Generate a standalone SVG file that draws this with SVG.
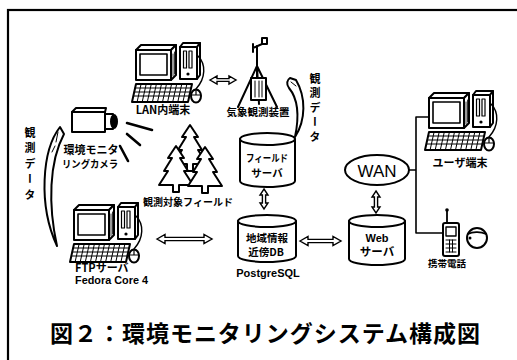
<svg xmlns="http://www.w3.org/2000/svg" xmlns:xlink="http://www.w3.org/1999/xlink" width="517" height="360" viewBox="0 0 517 360">
  <style>
    .ln { fill: none; stroke: #000; stroke-linejoin: round; stroke-linecap: round; }
    .sh { fill: #fff; stroke: #000; stroke-width: 2; stroke-linejoin: round; }
    .dbl { fill: #fff; stroke: #000; stroke-width: 1.4; stroke-linejoin: miter; }
    .lbl { font-family: "Noto Sans CJK JP", "Noto Sans", sans-serif; font-weight: bold; fill: #000; text-anchor: middle; }
    .lat { font-family: "Liberation Sans", Arial, sans-serif; font-weight: bold; fill: #000; text-anchor: middle; }
    .vert { writing-mode: vertical-rl; text-anchor: start; }
  </style>
  <defs>
    <!-- desktop computer: monitor, tower, keyboard, mouse -->
    <g id="pc">
      <path class="sh" d="M4,8 L9,3 L44,3 L39,8 Z"/>
      <path class="sh" d="M39,8 L44,3 L44,33 L39,38 Z"/>
      <path class="ln" stroke-width="0.8" d="M41,12 L41,34 M42.5,10 L42.5,32"/>
      <rect class="sh" x="4" y="8" width="35" height="30" stroke-width="2.6"/>
      <rect class="ln" x="8" y="12" width="27" height="21" stroke-width="1.6"/>
      <path class="sh" d="M48,5 L51,1 L68,1 L65,5 Z"/>
      <path class="sh" d="M65,5 L68,1 L68,33 L65,37 Z"/>
      <rect class="sh" x="48" y="5" width="17" height="32"/>
      <rect class="ln" x="51.5" y="9" width="3" height="17" stroke-width="1.2"/>
      <rect class="ln" x="57" y="9" width="3" height="17" stroke-width="1.2"/>
      <circle cx="56" cy="32" r="1.6" fill="#000"/>
      <path class="ln" stroke-width="1.4" d="M66,14 C74,22 74,36 64,47"/>
      <path class="sh" d="M0,60 L4,42 L60,42 L56,60 Z"/>
      <path class="ln" stroke-width="1" d="M3.1,46 L59.1,46 M2.2,50 L58.2,50 M1.3,54 L57.3,54 M9.1,42 L5.1,60 M14.2,42 L10.2,60 M19.3,42 L15.3,60 M24.4,42 L20.4,60 M29.5,42 L25.5,60 M34.5,42 L30.5,60 M39.6,42 L35.6,60 M44.7,42 L40.7,60 M49.8,42 L45.8,60 M54.9,42 L50.9,60"/>
      <ellipse class="sh" cx="64" cy="54" rx="5" ry="6.5" stroke-width="1.6"/>
      <path class="ln" stroke-width="1.2" d="M59,53 L69,53 M64,47.5 L64,53"/>
    </g>
    <!-- pine tree outline, tip at origin -->
    <path id="tree" class="sh" d="M0,0 L-8,12 L-4,12 L-12,25 L-8,25 L-17,39 L-3,39 L-3,46 L3,46 L3,39 L17,39 L8,25 L12,25 L4,12 L8,12 Z"/>
  </defs>

  <rect width="517" height="360" fill="#fff"/>
  <!-- outer frame -->
  <rect x="8" y="10" width="530" height="370" fill="none" stroke="#000" stroke-width="2.2"/>

  <g id="lan-terminal">
    <use xlink:href="#pc" transform="translate(132,42)"/>
    <text class="lbl" x="163" y="114" font-size="11">LAN内端末</text>
  </g>

  <g id="weather-station">
    <path class="ln" stroke-width="2" d="M257,46 L257,78 M257,66 L238,107 M257,66 L277,107 M257,66 L259,104"/>
    <path class="ln" stroke-width="2" d="M253,48 L262,44 M262,44 L262,38 L267,38 L267,44 Z M253,44 L253,52"/>
    <rect class="sh" x="251" y="78" width="15" height="22" stroke-width="1.8"/>
    <path class="ln" stroke-width="1" d="M255,81 L255,97 M259,81 L259,97 M262,81 L262,97"/>
    <text class="lbl" x="258" y="116" font-size="10.5">気象観測装置</text>
  </g>

  <g id="camera">
    <path class="sh" d="M72,112 L76,108 L106,108 L105,112 Z"/>
    <rect class="sh" x="72" y="112" width="33" height="20" stroke-width="2.4"/>
    <rect class="sh" x="105" y="114" width="8" height="15"/>
    <ellipse cx="114" cy="121.5" rx="4" ry="7.5" fill="#000"/>
    <path class="ln" stroke-width="2.6" d="M127,123 L152,130 M127,134 L140,145 M120,146 L128,161"/>
    <text class="lbl" x="91" y="154" font-size="11">環境モニタ</text>
    <text class="lbl" x="90" y="168" font-size="10" textLength="56" lengthAdjust="spacingAndGlyphs">リングカメラ</text>
  </g>

  <g id="field">
    <use xlink:href="#tree" transform="translate(190,125)"/>
    <use xlink:href="#tree" transform="translate(176,146)"/>
    <use xlink:href="#tree" transform="translate(205,147)"/>
    <text class="lbl" x="188" y="206" font-size="10" textLength="90" lengthAdjust="spacingAndGlyphs">観測対象フィールド</text>
  </g>

  <g id="field-server">
    <path class="sh" d="M240,139 A27.5,6 0 0 1 295,139 L295,181 A27.5,6 0 0 1 240,181 Z"/>
    <path class="ln" stroke-width="2" d="M240,139 A27.5,6 0 0 0 295,139"/>
    <text class="lbl" x="267" y="162" font-size="10" textLength="42" lengthAdjust="spacingAndGlyphs">フィールド</text>
    <text class="lbl" x="267" y="176.5" font-size="10.5">サーバ</text>
  </g>

  <g id="db-server">
    <path class="sh" d="M238,221 A29,6 0 0 1 296,221 L296,256 A29,6 0 0 1 238,256 Z"/>
    <path class="ln" stroke-width="2" d="M238,221 A29,6 0 0 0 296,221"/>
    <text class="lbl" x="267" y="242" font-size="10.5">地域情報</text>
    <text class="lbl" x="266" y="256" font-size="10.5">近傍DB</text>
    <text class="lat" x="268" y="277" font-size="11">PostgreSQL</text>
  </g>

  <g id="ftp-server">
    <use xlink:href="#pc" transform="translate(70,202)"/>
    <text class="lbl" x="75" y="272" font-size="11" style="text-anchor:start">FTPサーバ</text>
    <text class="lat" x="75" y="284" font-size="10" style="text-anchor:start" textLength="73" lengthAdjust="spacingAndGlyphs">Fedora Core 4</text>
  </g>

  <g id="wan">
    <ellipse class="sh" cx="377" cy="170" rx="32" ry="15"/>
    <text x="377" y="176.5" font-family="Liberation Sans, Arial, sans-serif" font-size="17" text-anchor="middle">WAN</text>
  </g>

  <g id="web-server">
    <path class="sh" d="M349,221 A28,6 0 0 1 405,221 L405,259 A28,6 0 0 1 349,259 Z"/>
    <path class="ln" stroke-width="2" d="M349,221 A28,6 0 0 0 405,221"/>
    <text class="lat" x="377" y="242" font-size="11">Web</text>
    <text class="lbl" x="377" y="256" font-size="11.5">サーバ</text>
  </g>

  <g id="user-terminal">
    <use xlink:href="#pc" transform="translate(425,90)"/>
    <text class="lbl" x="460" y="167" font-size="11">ユーザ端末</text>
  </g>

  <g id="mobile-phone">
    <path class="ln" stroke-width="1.8" d="M447,211 L447,224"/>
    <circle cx="447" cy="210" r="1.8" fill="#000"/>
    <rect class="sh" x="443" y="223" width="16" height="33" rx="2"/>
    <rect class="ln" x="446" y="227" width="10" height="9" stroke-width="1.4"/>
    <path class="ln" stroke-width="1" d="M446,240 L456,240 M446,244 L456,244 M446,248 L456,248 M446,252 L456,252 M449.5,240 L449.5,252 M452.5,240 L452.5,252"/>
    <circle class="sh" cx="477" cy="238" r="10"/>
    <path class="ln" stroke-width="1.6" d="M468,234 C472,232 480,231 486,234"/>
    <circle cx="470" cy="238" r="1.5" fill="#000"/>
    <text class="lbl" x="447" y="267" font-size="9.5">携帯電話</text>
  </g>

  <g id="data-labels">
    <text class="lbl vert" x="315" y="73" font-size="11" letter-spacing="3.5">観測データ</text>
    <text class="lbl vert" x="30" y="127" font-size="11" letter-spacing="4.5">観測データ</text>
  </g>

  <g id="connectors">
    <!-- hollow double-headed arrows -->
    <path class="dbl" d="M210,80 L217,76 L217,78.6 L229,78.6 L229,76 L236,80 L229,84 L229,81.4 L217,81.4 L217,84 Z"/>
    <path class="dbl" d="M157,239 L165,234.5 L165,237.4 L204,237.4 L204,234.5 L212,239 L204,243.5 L204,240.6 L165,240.6 L165,243.5 Z"/>
    <path class="dbl" d="M300,241 L308,236.5 L308,239.4 L333,239.4 L333,236.5 L341,241 L333,245.5 L333,242.6 L308,242.6 L308,245.5 Z"/>
    <path class="dbl" d="M264,189 L268,195 L265.6,195 L265.6,203 L268,203 L264,209 L260,203 L262.4,203 L262.4,195 L260,195 Z"/>
    <path class="dbl" d="M376,191 L380,197 L377.6,197 L377.6,207 L380,207 L376,213 L372,207 L374.4,207 L374.4,197 L372,197 Z"/>
    <!-- WAN links to user terminal and phone -->
    <path class="ln" stroke-width="1.6" stroke-linejoin="miter" stroke-linecap="butt" d="M428,117 L416,117 L416,233 L443,233 M409,170 L416,170"/>
    <!-- curved data-flow arrows -->
    <path class="sh" stroke-width="1.6" d="M290,78 L296,80 C306,97 306,120 295,137 C299,118 299,100 289,88 C286,84 287,80 290,78 Z"/>
    <path class="ln" stroke-width="1" d="M291,82 L296,86"/>
    <path class="sh" stroke-width="1.6" d="M60,127 C42,150 38,205 57,246 C48,205 49,162 64,134 Z"/>
    <path class="ln" stroke-width="1" d="M58,132 L56,142 M55,146 L52,152"/>
  </g>

  <text id="caption" x="50" y="342" font-family="Noto Sans CJK JP, sans-serif" font-weight="bold" font-size="23" textLength="430" lengthAdjust="spacing">図２：環境モニタリングシステム構成図</text>
</svg>
